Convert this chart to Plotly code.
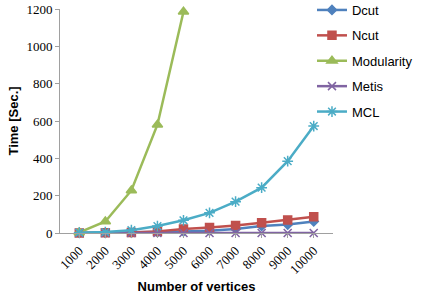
import plotly.graph_objects as go

vertices = ["1000", "2000", "3000", "4000", "5000", "6000", "7000", "8000", "9000", "10000"]
dcut = [0, 1, 2, 4, 8, 12, 22, 38, 45, 62]
ncut = [0, 1, 3, 8, 22, 30, 40, 55, 70, 87]
modularity = [3, 62, 228, 580, 1185]
metis = [0, 0, 0, 0, 0, 0, 0, 0, 0, 0]
mcl = [2, 5, 15, 37, 68, 108, 168, 243, 385, 573]

series = [
    ("Dcut", dcut, "#4F81BD", "diamond", 7),
    ("Ncut", ncut, "#C0504D", "square", 8),
    ("Modularity", modularity, "#9BBB59", "triangle-up", 9),
    ("Metis", metis, "#8064A2", "x-thin-open", 8),
    ("MCL", mcl, "#4BACC6", "asterisk-open", 9),
]

fig = go.Figure()
for i, (name, vals, color, sym, size) in enumerate(series):
    fig.add_trace(go.Scatter(
        x=vertices[:len(vals)], y=vals, name=name, mode="lines+markers",
        line=dict(color=color, width=2.5),
        marker=dict(symbol=sym, size=size, color=color, line=dict(color=color, width=1.5)),
        legendgroup=name,
    ))

fig.update_layout(
    width=427, height=300,
    margin=dict(l=60, r=94, t=9, b=67, autoexpand=False),
    paper_bgcolor="white", plot_bgcolor="white",
    showlegend=True,
    legend=dict(x=0.923, y=1.0625, xanchor="left", yanchor="top",
                font=dict(family="Liberation Sans, Arial, sans-serif", size=13, color="#000"),
                tracegroupgap=5.5, itemwidth=30, bgcolor="rgba(0,0,0,0)"),
    xaxis=dict(type="category", showline=True, linecolor="#A0A0A0", linewidth=1, automargin=False,
               ticks="outside", ticklen=4, tickcolor="#A0A0A0", tickangle=-45,
               tickfont=dict(family="Liberation Serif, Times New Roman, serif", size=13, color="#000"),
               showgrid=False, zeroline=False,
               title=dict(text="<b>Number of vertices</b>", standoff=6,
                          font=dict(family="Liberation Sans, Arial, sans-serif", size=13, color="#000"))),
    yaxis=dict(range=[0, 1200], tickvals=[0, 200, 400, 600, 800, 1000, 1200], automargin=False,
               showline=True, linecolor="#A0A0A0", linewidth=1,
               ticks="outside", ticklen=4, tickcolor="#A0A0A0",
               tickfont=dict(family="Liberation Serif, Times New Roman, serif", size=13, color="#000"),
               showgrid=False, zeroline=False,
               title=dict(text="<b>Time [Sec.]</b>", standoff=4,
                          font=dict(family="Liberation Sans, Arial, sans-serif", size=13, color="#000"))),
)
fig.update_traces(cliponaxis=False)
fig.write_html("out.html", config={"displayModeBar": False},
               post_script="document.body.style.margin='0';")
